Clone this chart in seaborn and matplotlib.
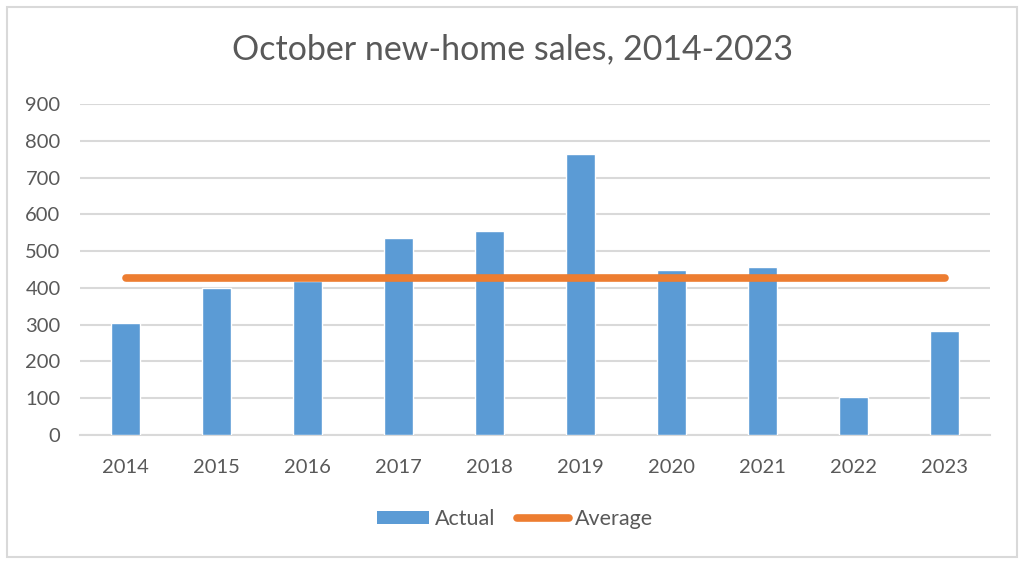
import matplotlib
matplotlib.use("Agg")
import matplotlib.pyplot as plt
import seaborn as sns
import pandas as pd
from matplotlib.patches import Rectangle
from matplotlib.lines import Line2D
from matplotlib.patches import Patch

years = ["2014", "2015", "2016", "2017", "2018", "2019", "2020", "2021", "2022", "2023"]
actual = [305, 399, 419, 536, 554, 763, 448, 458, 102, 282]
average = 427
yticks = [0, 100, 200, 300, 400, 500, 600, 700, 800, 900]

BAR = "#5b9bd5"
LINE = "#ed7d31"
TXT = "#595959"
GRID = "#d9d9d9"

sns.set_style("white")
plt.rcParams["font.family"] = ["Lato", "DejaVu Sans"]

df = pd.DataFrame({"year": years, "actual": actual})

fig = plt.figure(figsize=(10.24, 5.64), dpi=100)
ax = fig.add_axes([80 / 1024, 1 - 435 / 564, 910 / 1024, 331 / 564])

sns.barplot(data=df, x="year", y="actual", color=BAR, width=0.32, ax=ax,
            saturation=1, zorder=3)
ax.plot(range(len(years)), [average] * len(years), color=LINE, lw=5.5,
        solid_capstyle="round", zorder=4)

ax.set_xlim(-0.5, len(years) - 0.5)
ax.set_ylim(0, 900)
ax.set_yticks(yticks)
ax.set_yticklabels([str(v) for v in yticks])
ax.yaxis.grid(True, color=GRID, lw=1.5, zorder=0)
ax.set_axisbelow(True)
for s in ["top", "right", "left"]:
    ax.spines[s].set_visible(False)
ax.spines["bottom"].set_color(GRID)
ax.spines["bottom"].set_linewidth(1.5)
ax.tick_params(axis="both", length=0, labelsize=14.5, colors=TXT)
ax.tick_params(axis="x", pad=17)
ax.tick_params(axis="y", pad=14)
ax.set_xlabel("")
ax.set_ylabel("")

fig.text(0.5, 1 - 49 / 564, "October new-home sales, 2014-2023", ha="center",
         va="center", fontsize=24.5, color=TXT)

handles = [Patch(facecolor=BAR, edgecolor="none"),
           Line2D([0], [0], color=LINE, lw=5.5, solid_capstyle="round")]
fig.legend(handles, ["Actual", "Average"], loc="center",
           bbox_to_anchor=(0.503, 1 - 519 / 564), ncol=2, frameon=False,
           fontsize=15.5, labelcolor=TXT, handlelength=2.4, handleheight=0.6,
           handletextpad=0.3, columnspacing=1.0)

fig.patches.append(Rectangle((7 / 1024, 7 / 564), 1010 / 1024, 550 / 564,
                             transform=fig.transFigure, fill=False,
                             edgecolor=GRID, lw=1.5))

fig.savefig("out.png", dpi=100, facecolor="white")
